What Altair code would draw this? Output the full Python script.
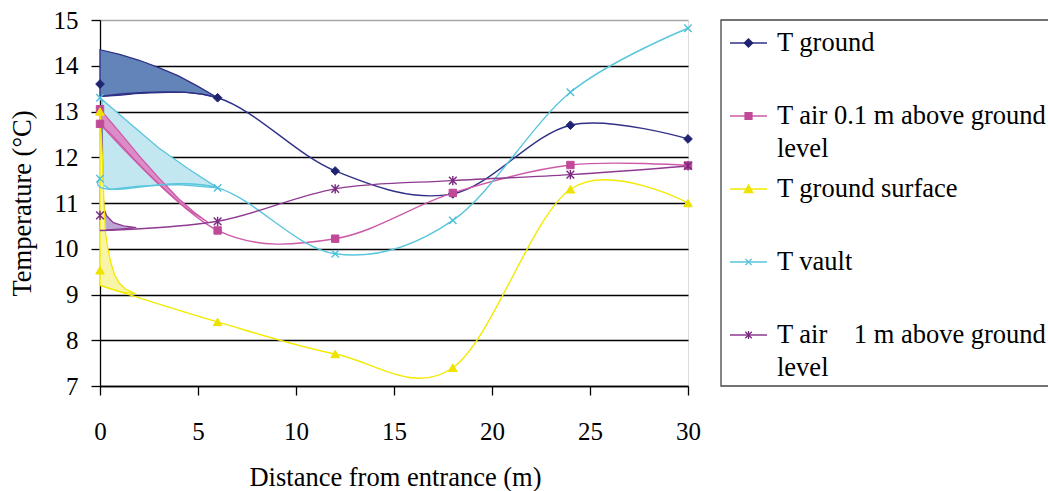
import altair as alt
import pandas as pd

# ---------------- values ----------------
SERIES = ["T ground",
          "T air 0.1 m above ground level",
          "T ground surface",
          "T vault",
          "T air\u00a0\u00a0\u00a0\u00a01 m above ground level"]

X_TICKS = [0, 5, 10, 15, 20, 25, 30]
Y_TICKS = [7, 8, 9, 10, 11, 12, 13, 14, 15]

# measured points (markers)
GROUND_X = [0, 6, 12, 18, 24, 30]
GROUND_Y = [13.6, 13.3, 11.7, 11.2, 12.7, 12.4]
AIR01_X = [0, 0, 6, 12, 18, 24, 30]
AIR01_Y = [13.05, 12.73, 10.4, 10.22, 11.22, 11.83, 11.82]
SURF_X = [0, 0, 6, 12, 18, 24, 30]
SURF_Y = [13.0, 9.53, 8.4, 7.7, 7.4, 11.3, 11.0]
VAULT_X = [0, 0, 6, 12, 18, 24, 30]
VAULT_Y = [13.3, 11.53, 11.33, 9.89, 10.62, 13.42, 14.82]
AIR1_X = [0, 6, 12, 18, 24, 30]
AIR1_Y = [10.73, 10.6, 11.31, 11.49, 11.62, 11.81]

# smoothed line traces
GROUND_LINE_X = [0, 6, 12, 18, 24, 30]
GROUND_LINE_Y = [13.33, 13.3, 11.7, 11.2, 12.7, 12.4]
AIR01_LINE_X = [0, 6, 12, 18, 24, 30]
AIR01_LINE_Y = [12.73, 10.4, 10.22, 11.22, 11.83, 11.82]
SURF_LINE_X = [0, 6, 12, 18, 24, 30]
SURF_LINE_Y = [9.2, 8.4, 7.7, 7.4, 11.3, 11.0]
VAULT_LINE_X = [0, 0.5, 6, 12, 18, 24, 30]
VAULT_LINE_Y = [11.53, 11.3, 11.33, 9.89, 10.62, 13.42, 14.82]
AIR1_LINE_X = [0, 6, 12, 18, 24, 30]
AIR1_LINE_Y = [10.4, 10.6, 11.31, 11.49, 11.62, 11.81]

# shaded loops near the entrance (outline)
GROUND_LOOP_X = [0, 0, 1, 2, 3, 4, 5, 6, 5.2, 4.4, 3.5, 2.6, 1.8, 1.1, 0.5, 0]
GROUND_LOOP_Y = [13.33, 14.35, 14.25, 14.12, 13.96, 13.78, 13.55, 13.3,
                 13.38, 13.42, 13.42, 13.41, 13.39, 13.36, 13.34, 13.33]
AIR01_LOOP_X = [0, 1, 2, 3, 4, 4.8, 5.5, 4.4, 3.5, 2.6, 1.8, 1.1, 0.5, 0, 0]
AIR01_LOOP_Y = [13.05, 12.55, 12.03, 11.55, 11.1, 10.8, 10.58, 10.88, 11.22, 11.58, 11.93,
                12.26, 12.53, 12.73, 13.05]
SURF_LOOP_X = [0, 0.12, 0.2, 0.28, 0.4, 0.55, 0.75, 1.0, 1.3, 1.8, 1.1, 0.5, 0, 0]
SURF_LOOP_Y = [13.0, 12.0, 11.0, 10.35, 10.0, 9.7, 9.42, 9.24, 9.12, 9.02, 9.05, 9.13, 9.2, 13.0]
VAULT_LOOP_X = [0, 1.5, 3, 4.5, 6, 4, 2, 0.5, 0.15, 0.1, 0]
VAULT_LOOP_Y = [13.3, 12.75, 12.2, 11.75, 11.33, 11.4, 11.37, 11.3, 11.4, 13.2, 13.3]
AIR1_LOOP_X = [0.08, 0.12, 0.15, 0.22, 0.34, 0.68, 1.2, 1.85, 1.0, 0, 0, 0.08]
AIR1_LOOP_Y = [12.95, 12.0, 11.2, 10.85, 10.72, 10.57, 10.5, 10.46, 10.43, 10.4, 10.73, 12.95]

# ---------------- styles ----------------
X_PATH = "M-1,-1L1,1M-1,1L1,-1"
STAR_PATH = "M-1,-1L1,1M-1,1L1,-1M0,-1.2L0,1.2"
FONT = "Liberation Serif"

STYLE = {
    0: dict(line="#2f3188", marker="#1f2370", fill="#6384b8", shape="diamond", size=75, filled=True),
    1: dict(line="#cc5aa8", marker="#c04a98", fill="#dc8cc6", shape="square", size=55, filled=True),
    2: dict(line="#f2ea00", marker="#eee200", fill="#f8f4a8", shape="triangle-up", size=75, filled=True),
    3: dict(line="#58c6dc", marker="#4cc0d8", fill="#c3e7f0", shape=X_PATH, size=55, filled=False),
    4: dict(line="#8d3a90", marker="#7a2a80", fill="#bba6d6", shape=STAR_PATH, size=60, filled=False),
}

MARKERS = [(GROUND_X, GROUND_Y), (AIR01_X, AIR01_Y), (SURF_X, SURF_Y), (VAULT_X, VAULT_Y), (AIR1_X, AIR1_Y)]
LINES = [(GROUND_LINE_X, GROUND_LINE_Y), (AIR01_LINE_X, AIR01_LINE_Y), (SURF_LINE_X, SURF_LINE_Y),
         (VAULT_LINE_X, VAULT_LINE_Y), (AIR1_LINE_X, AIR1_LINE_Y)]
LOOPS = [(GROUND_LOOP_X, GROUND_LOOP_Y), (AIR01_LOOP_X, AIR01_LOOP_Y), (SURF_LOOP_X, SURF_LOOP_Y),
         (VAULT_LOOP_X, VAULT_LOOP_Y), (AIR1_LOOP_X, AIR1_LOOP_Y)]

W, H = 588, 366

x_enc = alt.X("x:Q",
              scale=alt.Scale(domain=[0, 30], nice=False, zero=False),
              axis=alt.Axis(values=X_TICKS, title="Distance from entrance (m)", grid=False,
                            tickSize=9, tickColor="#000", tickWidth=1.3,
                            domainColor="#000", domainWidth=1.3,
                            labelFont=FONT, labelFontSize=25, labelColor="#000",
                            labelBaseline="alphabetic", labelPadding=44, labelFlush=False,
                            labelOverlap=False,
                            titleFont=FONT, titleFontSize=26.5, titleFontWeight="normal",
                            titleColor="#000", titleBaseline="alphabetic",
                            titleX=W / 2 + 1, titleY=99, titleAlign="center"))
y_enc = alt.Y("y:Q",
              scale=alt.Scale(domain=[7, 15], nice=False, zero=False),
              axis=alt.Axis(values=Y_TICKS, title="Temperature (\u00b0C)",
                            grid=True,
                            gridColor={"condition": {"test": "datum.value >= 15", "value": "#a6a6a6"},
                                       "value": "#000000"},
                            gridWidth=1.3,
                            tickSize=9, tickColor="#000", tickWidth=1.3,
                            domainColor="#000", domainWidth=1.3,
                            labelFont=FONT, labelFontSize=25, labelColor="#000",
                            labelPadding=13, labelBaseline="middle", labelOverlap=False,
                            titleFont=FONT, titleFontSize=26.5, titleFontWeight="normal",
                            titleColor="#000", titleAngle=270, titleBaseline="alphabetic",
                            titleAlign="center", titleX=-70, titleY=H / 2))


def frame(xs, ys):
    return pd.DataFrame({"x": xs, "y": ys, "i": list(range(len(xs)))})


layers = []
# shaded loops
for k in [0, 3, 4, 1, 2]:
    st = STYLE[k]
    xs, ys = LOOPS[k]
    layers.append(
        alt.Chart(frame(xs, ys)).mark_line(fill=st["fill"], stroke=st["line"], strokeWidth=1.3,
                                           interpolate="linear")
        .encode(x=x_enc, y=y_enc, order=alt.Order("i:Q"))
    )
# smoothed lines
for k in range(5):
    st = STYLE[k]
    xs, ys = LINES[k]
    layers.append(
        alt.Chart(frame(xs, ys)).mark_line(color=st["line"], strokeWidth=1.4, interpolate="cardinal")
        .encode(x=x_enc, y=y_enc)
    )
# markers
for k in range(5):
    st = STYLE[k]
    xs, ys = MARKERS[k]
    if st["filled"]:
        mk = alt.Chart(frame(xs, ys)).mark_point(shape=st["shape"], size=st["size"], filled=True,
                                                fill=st["marker"], stroke=st["marker"], strokeWidth=1,
                                                opacity=1)
    else:
        mk = alt.Chart(frame(xs, ys)).mark_point(shape=st["shape"], size=st["size"], filled=False,
                                                stroke=st["marker"], strokeWidth=1.4, opacity=1)
    layers.append(mk.encode(x=x_enc, y=y_enc))

# legend (manual, laid out in pixels to the right of the plot)
LEG_LEFT, LEG_TOP, LEG_BOTTOM = 621, 0, 366
LEG_ROW0, LEG_STEP, LEG_LINE_H = 23, 73, 33.4
SYM_X0, SYM_X1, TXT_X = 630, 667, 677
WRAP = {1: ["T air 0.1 m above ground", "level"],
        4: ["T air\u00a0\u00a0\u00a0\u00a01 m above ground", "level"]}

one = pd.DataFrame({"d": [0]})
layers.append(
    alt.Chart(one).mark_rect(fill="transparent", stroke="#444", strokeWidth=1.3)
    .encode(x=alt.value(LEG_LEFT), x2=alt.value(LEG_LEFT + 400),
            y=alt.value(LEG_TOP), y2=alt.value(LEG_BOTTOM))
)
for k, name in enumerate(SERIES):
    st = STYLE[k]
    yy = LEG_ROW0 + LEG_STEP * k
    layers.append(
        alt.Chart(one).mark_rule(color=st["line"], strokeWidth=1.4)
        .encode(x=alt.value(SYM_X0), x2=alt.value(SYM_X1), y=alt.value(yy))
    )
    if st["filled"]:
        pm = alt.Chart(one).mark_point(shape=st["shape"], size=st["size"] * 0.7, filled=True,
                                       fill=st["marker"], stroke=st["marker"], opacity=1)
    else:
        pm = alt.Chart(one).mark_point(shape=st["shape"], size=st["size"] * 0.7, filled=False,
                                       stroke=st["marker"], strokeWidth=1.3, opacity=1)
    layers.append(pm.encode(x=alt.value((SYM_X0 + SYM_X1) / 2), y=alt.value(yy)))
    lines = WRAP.get(k, [name])
    for j, txt in enumerate(lines):
        layers.append(
            alt.Chart(pd.DataFrame({"t": [txt]})).mark_text(
                align="left", baseline="middle", font=FONT, fontSize=26.5, color="#000")
            .encode(x=alt.value(TXT_X), y=alt.value(yy + j * LEG_LINE_H), text="t:N")
        )

chart = (
    alt.layer(*layers)
    .properties(width=W, height=H,
                padding={"left": 100, "top": 20, "right": 360, "bottom": 105},
                autosize=alt.AutoSizeParams(type="none"))
    .configure_view(stroke="#a6a6a6", strokeWidth=1.3)
    .configure(background="white")
)

chart.save("out.html", embed_options={"renderer": "svg", "actions": False})
